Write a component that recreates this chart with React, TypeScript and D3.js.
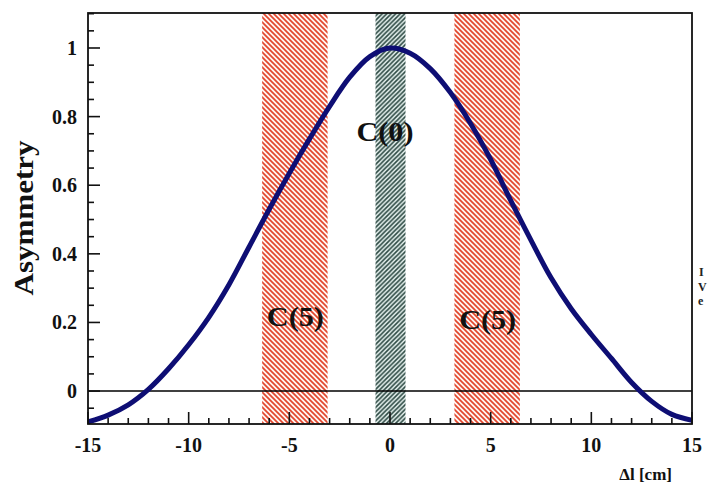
import React from "react";
import * as d3 from "d3";

// Asymmetry vs. displacement curve
const curveX = [-15, -14, -13, -12, -11, -10, -9, -8, -7, -6, -5, -4, -3, -2, -1, 0, 1, 2, 3, 4, 5, 6, 7, 8, 9, 10, 11, 12, 13, 14, 15];
const curveY = [-0.09, -0.07, -0.04, 0.005, 0.065, 0.135, 0.215, 0.31, 0.42, 0.53, 0.635, 0.735, 0.83, 0.915, 0.975, 1.0, 0.985, 0.94, 0.87, 0.78, 0.675, 0.555, 0.44, 0.33, 0.24, 0.165, 0.095, 0.025, -0.03, -0.068, -0.085];

// hatched bands [from, to] in cm
const redBands: [number, number][] = [[-6.35, -3.1], [3.2, 6.45]];
const greenBands: [number, number][] = [[-0.72, 0.77]];

const bandLabels = [
  { text: "C(5)", x: -4.7, y: 0.19 },
  { text: "C(0)", x: -0.25, y: 0.73 },
  { text: "C(5)", x: 4.85, y: 0.18 },
];

const xTicks = [-15, -10, -5, 0, 5, 10, 15];
const yTicks = [0, 0.2, 0.4, 0.6, 0.8, 1];

const W = 708;
const H = 486;
const L = 88, T = 13, R = 692, B = 424;

const font = "'Liberation Serif', 'DejaVu Serif', serif";

export default function App() {
  const x = d3.scaleLinear().domain([-15, 15]).range([L, R]);
  const y = d3.scaleLinear().domain([-0.096, 1.102]).range([B, T]);

  const pts = curveX.map((v, i) => [v, curveY[i]] as [number, number]);
  const line = d3
    .line<[number, number]>()
    .x((d) => x(d[0]))
    .y((d) => y(d[1]))
    .curve(d3.curveCatmullRom.alpha(0.5));

  const xMinor = d3.range(-15, 15.01, 1);
  const yMinor = d3.range(-0.05, 1.101, 0.05);

  return (
    <svg
      width={W}
      height={H}
      style={{ position: "absolute", left: 0, top: 0, background: "#fff" }}
      fontFamily={font}
    >
      <defs>
        <pattern id="hatchRed" patternUnits="userSpaceOnUse" width="5" height="5">
          <rect width="5" height="5" fill="#fff6f2" />
          <path d="M0,0 L5,5 M-1,4 L1,6 M4,-1 L6,1" stroke="#e2472e" strokeWidth="1.7" />
        </pattern>
        <pattern id="hatchGreen" patternUnits="userSpaceOnUse" width="4.5" height="4.5">
          <rect width="4.5" height="4.5" fill="#e6f2ef" />
          <path d="M0,4.5 L4.5,0 M-1,1 L1,-1 M3.5,5.5 L5.5,3.5" stroke="#2e4a44" strokeWidth="1.6" />
        </pattern>
        <clipPath id="plot">
          <rect x={L} y={T} width={R - L} height={B - T} />
        </clipPath>
      </defs>

      <g clipPath="url(#plot)">
        {redBands.map(([a, b], i) => (
          <rect key={"r" + i} x={x(a)} y={T} width={x(b) - x(a)} height={B - T} fill="url(#hatchRed)" />
        ))}
        {greenBands.map(([a, b], i) => (
          <rect key={"g" + i} x={x(a)} y={T} width={x(b) - x(a)} height={B - T} fill="url(#hatchGreen)" />
        ))}
        <line x1={L} x2={R} y1={y(0)} y2={y(0)} stroke="#000" strokeWidth={1.4} />
        <path d={line(pts) || ""} fill="none" stroke="#0e0e74" strokeWidth={5} strokeLinecap="round" />
      </g>

      {bandLabels.map((d, i) => (
        <text
          key={"l" + i}
          x={x(d.x)}
          y={y(d.y)}
          textAnchor="middle"
          fontSize={27}
          fontWeight="bold"
          fill="#111"
          textLength={57}
          lengthAdjust="spacingAndGlyphs"
        >
          {d.text}
        </text>
      ))}

      {/* frame */}
      <rect x={L} y={T} width={R - L} height={B - T} fill="none" stroke="#111" strokeWidth={1.8} />

      {/* x ticks */}
      {xMinor.map((v) => {
        const major = Math.abs(v % 5) < 1e-6;
        return (
          <line key={"xt" + v} x1={x(v)} x2={x(v)} y1={B} y2={B - (major ? 12 : 6)} stroke="#111" strokeWidth={1.6} />
        );
      })}
      {xTicks.map((v) => (
        <text key={"xl" + v} x={x(v)} y={452} textAnchor="middle" fontSize={20} fontWeight="bold" fill="#111">
          {v}
        </text>
      ))}

      {/* y ticks */}
      {yMinor.map((v) => {
        const major = Math.abs(Math.round(v * 100) % 20) < 1e-6;
        return (
          <line key={"yt" + v.toFixed(2)} x1={L} x2={L + (major ? 12 : 6)} y1={y(v)} y2={y(v)} stroke="#111" strokeWidth={1.6} />
        );
      })}
      {yTicks.map((v) => (
        <text key={"yl" + v} x={77} y={y(v) + 7} textAnchor="end" fontSize={20} fontWeight="bold" fill="#111">
          {v}
        </text>
      ))}

      <text
        transform={`translate(33,218) rotate(-90)`}
        textAnchor="middle"
        fontSize={27}
        fontWeight="bold"
        fill="#111"
        textLength={155}
        lengthAdjust="spacingAndGlyphs"
      >
        Asymmetry
      </text>

      <text x={672} y={480} textAnchor="end" fontSize={17} fontWeight="bold" fill="#111">
        Δl [cm]
      </text>

      {/* legend letters at the right edge */}
      <text x={699} y={276} fontSize={12} fontWeight="bold" fill="#222">I</text>
      <text x={698} y={291} fontSize={12} fontWeight="bold" fill="#222">V</text>
      <text x={698} y={305} fontSize={12} fontWeight="bold" fill="#222">e</text>
    </svg>
  );
}
